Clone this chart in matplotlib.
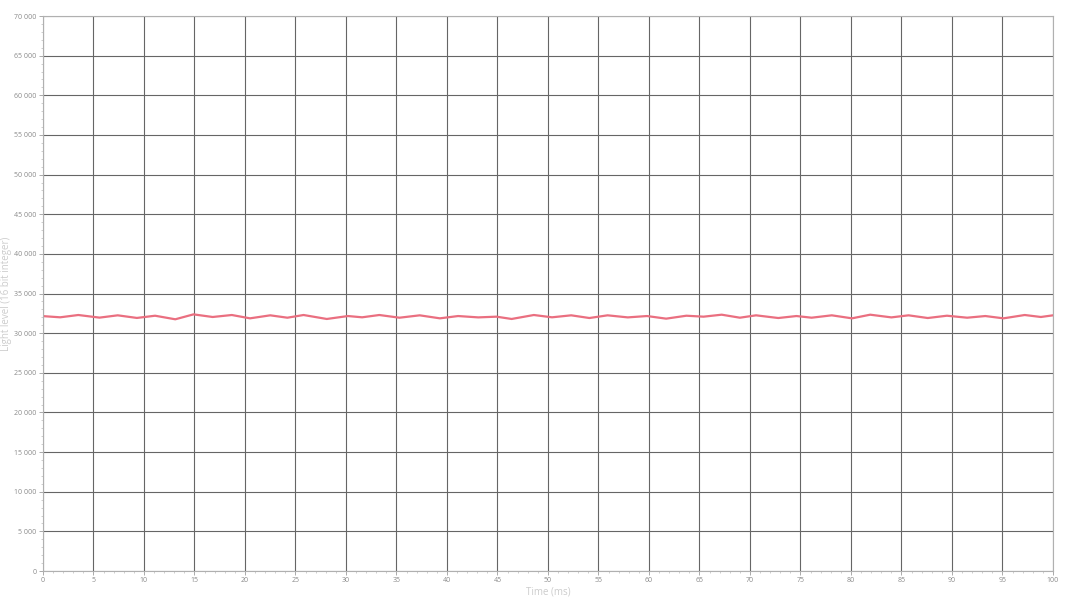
import matplotlib
matplotlib.use('Agg')
import matplotlib.pyplot as plt
from matplotlib.ticker import MultipleLocator, FuncFormatter

# time (ms) of each turning point of the trace
time_ms = [0, 1.7, 3.5, 5.6, 7.4, 9.3, 11.1, 13.1, 14.9, 16.8, 18.7, 20.5, 22.5, 24.2,
           25.8, 28.1, 30.2, 31.6, 33.3, 35.3, 37.3, 39.3, 41.1, 43.1, 44.9, 46.4,
           48.6, 50.4, 52.3, 54.1, 55.9, 57.9, 59.8, 61.7, 63.7, 65.4, 67.2, 69.0,
           70.6, 72.8, 74.6, 76.1, 78.1, 80.1, 81.9, 84.0, 85.7, 87.6, 89.5, 91.5,
           93.3, 95.1, 97.2, 98.8, 100]
light = [32150, 32000, 32290, 31960, 32250, 31920, 32200, 31750, 32370, 32040, 32290,
         31870, 32250, 31950, 32290, 31790, 32160, 32000, 32290, 31950, 32250, 31870,
         32160, 31990, 32080, 31790, 32290, 32000, 32250, 31910, 32250, 31990, 32160,
         31830, 32200, 32080, 32330, 31950, 32250, 31910, 32160, 31950, 32250, 31870,
         32330, 31990, 32250, 31910, 32200, 31950, 32160, 31870, 32290, 32040, 32250]

plt.rcParams['font.family'] = ['Open Sans', 'DejaVu Sans']

fig = plt.figure(figsize=(10.66, 6), dpi=100)
ax = fig.add_axes([0.0403, 0.0483, 0.9475, 0.925])

ax.plot(time_ms, light, '-', color='#ea6f80', linewidth=1.6)

ax.set_xlim(0, 100)
ax.set_ylim(0, 70000)
ax.xaxis.set_major_locator(MultipleLocator(5))
ax.xaxis.set_minor_locator(MultipleLocator(1))
ax.yaxis.set_major_locator(MultipleLocator(5000))
ax.yaxis.set_minor_locator(MultipleLocator(1000))
ax.yaxis.set_major_formatter(FuncFormatter(lambda v, p: f'{int(v):,}'.replace(',', ' ')))

ax.grid(which='major', color='#666666', linewidth=0.8)
ax.set_axisbelow(True)
for s in ax.spines.values():
    s.set_color('#b0b0b0')
    s.set_linewidth(0.8)

ax.tick_params(which='major', length=3, width=0.7, color='#aaaaaa',
               labelsize=5, labelcolor='#8a8a8a', pad=1.5)
ax.tick_params(which='minor', length=1.5, width=0.5, color='#bbbbbb')

ax.set_xlabel('Time (ms)', fontsize=7, color='#cccccc')
ax.set_ylabel('Light level (16 bit integer)', fontsize=7, color='#cccccc')
ax.xaxis.set_label_coords(0.5, -0.028)
ax.yaxis.set_label_coords(-0.031, 0.5)

plt.savefig('out.png', dpi=100)
